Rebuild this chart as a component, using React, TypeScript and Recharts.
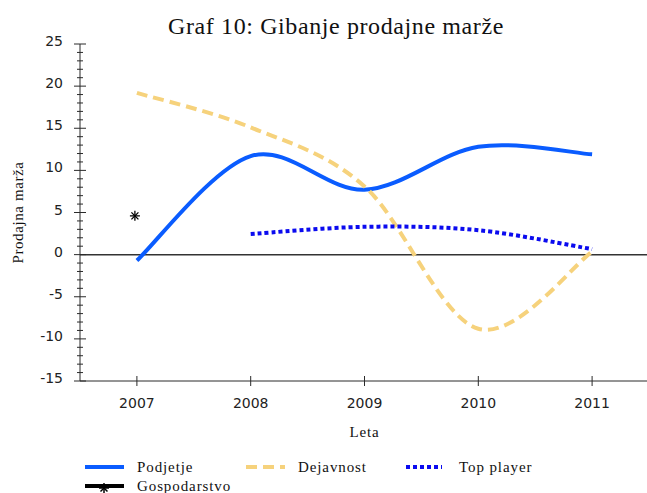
import React from "react";
import { ComposedChart, Line, XAxis, YAxis, ReferenceLine } from "recharts";

// Podatki, odčitani s slike
const years = [2007, 2008, 2009, 2010, 2011];
const podjetje = [-0.7, 11.7, 7.7, 12.8, 11.9];
const dejavnost = [19.2, 15.1, 8.1, -8.8, 0.35];
const topPlayer: (number | null)[] = [null, 2.45, 3.3, 2.9, 0.65];
const gospodarstvo: (number | null)[] = [4.6, null, null, null, null];

const yMajorTicks = [-15, -10, -5, 0, 5, 10, 15, 20, 25];
const yTicks = Array.from({ length: 41 }, (_, i) => i - 15);

const data = years.map((year, i) => ({
  year,
  podjetje: podjetje[i],
  dejavnost: dejavnost[i],
  topPlayer: topPlayer[i],
  gospodarstvo: gospodarstvo[i],
}));

const AXIS = "#2a2a2a";
const SANS = "DejaVu Sans";
const SERIF = "Liberation Serif";

// Excel-like smooth line (Catmull-Rom via bezier)
function smoothCurve(context: any) {
  let pts: number[][] = [];
  return {
    areaStart() {},
    areaEnd() {},
    lineStart() {
      pts = [];
    },
    lineEnd() {
      const n = pts.length;
      if (n === 0) return;
      context.moveTo(pts[0][0], pts[0][1]);
      for (let i = 0; i < n - 1; i++) {
        const p0 = pts[Math.max(0, i - 1)];
        const p1 = pts[i];
        const p2 = pts[i + 1];
        const p3 = pts[Math.min(n - 1, i + 2)];
        context.bezierCurveTo(
          p1[0] + (p2[0] - p0[0]) / 6,
          p1[1] + (p2[1] - p0[1]) / 6,
          p2[0] - (p3[0] - p1[0]) / 6,
          p2[1] - (p3[1] - p1[1]) / 6,
          p2[0],
          p2[1]
        );
      }
    },
    point(x: number, y: number) {
      pts.push([+x, +y]);
    },
  };
}

const BottomTick = ({ x, y, payload }: any) => (
  <g>
    <line x1={x} x2={x} y1={y - 5} y2={y + 5} stroke={AXIS} />
    <text x={x} y={y + 27} textAnchor="middle" fontFamily={SANS} fontSize={14} fill="#222">
      {payload.value}
    </text>
  </g>
);

const TopTick = ({ x, y }: any) => <line x1={x} x2={x} y1={y} y2={y + 5} stroke={AXIS} />;

const LeftTick = ({ x, y, payload }: any) => {
  const major = yMajorTicks.includes(payload.value);
  const h = major ? 6 : 3;
  return (
    <g>
      <line x1={x - h} x2={x + h} y1={y} y2={y} stroke={AXIS} />
      {major && (
        <text x={x - 17} y={y + 2} textAnchor="end" fontFamily={SANS} fontSize={14} fill="#222">
          {payload.value}
        </text>
      )}
    </g>
  );
};

const RightTick = ({ x, y, payload }: any) => {
  const h = yMajorTicks.includes(payload.value) ? 6 : 3;
  return <line x1={x - h} x2={x + h} y1={y} y2={y} stroke={AXIS} />;
};

const Star = ({ cx, cy, r = 5, w = 1.3 }: any) => (
  <g stroke="#000" strokeWidth={w}>
    <line x1={cx - r} x2={cx + r} y1={cy} y2={cy} />
    <line x1={cx} x2={cx} y1={cy - r} y2={cy + r} />
    <line x1={cx - r * 0.7} x2={cx + r * 0.7} y1={cy - r * 0.7} y2={cy + r * 0.7} />
    <line x1={cx - r * 0.7} x2={cx + r * 0.7} y1={cy + r * 0.7} y2={cy - r * 0.7} />
  </g>
);

const StarDot = (props: any) => {
  if (props.value == null || props.cy == null) return <g key={props.key} />;
  return <Star key={props.key} cx={props.cx - 2} cy={props.cy} />;
};

const legendItems = [
  { name: "Podjetje", color: "#0A5CFF", dash: undefined, x: 85, len: 39, tx: 137, y: 467 },
  { name: "Dejavnost", color: "#F6D27C", dash: "11 6", x: 246, len: 39, tx: 298, y: 467 },
  { name: "Top player", color: "#0B0BEF", dash: "4 3", x: 406, len: 36, tx: 459, y: 467 },
  { name: "Gospodarstvo", color: "#000", dash: undefined, x: 85, len: 39, tx: 137, y: 486 },
];

export default function App() {
  return (
    <div
      style={{
        position: "absolute",
        left: 0,
        top: 0,
        width: 647,
        height: 493,
        overflow: "hidden",
        background: "#fff",
      }}
    >
      <ComposedChart width={660} height={493} data={data} margin={{ top: 44, right: 11, left: 0, bottom: 0 }}>
        <XAxis
          xAxisId="top"
          orientation="top"
          dataKey="year"
          type="number"
          domain={[2006.5, 2011.5]}
          ticks={years}
          height={0}
          tickSize={0}
          tickMargin={0}
          tick={<TopTick />}
          stroke={AXIS}
        />
        <XAxis
          dataKey="year"
          type="number"
          domain={[2006.5, 2011.5]}
          ticks={years}
          height={112}
          tickSize={0}
          tickMargin={0}
          tick={<BottomTick />}
          stroke={AXIS}
          label={{
            value: "Leta",
            position: "insideTop",
            offset: 45,
            fontFamily: SERIF,
            fontSize: 15,
            letterSpacing: 0.8,
            fill: "#111",
          }}
        />
        <YAxis
          domain={[-15, 25]}
          ticks={yTicks}
          interval={0}
          width={80}
          tickSize={0}
          tickMargin={0}
          tick={<LeftTick />}
          stroke={AXIS}
          allowDataOverflow
          label={{
            value: "Prodajna marža",
            angle: -90,
            position: "center",
            dx: -22,
            fontFamily: SERIF,
            fontSize: 15,
            letterSpacing: 0.6,
            fill: "#111",
          }}
        />
        <YAxis
          yAxisId="right"
          orientation="right"
          domain={[-15, 25]}
          ticks={yTicks}
          interval={0}
          width={0}
          tickSize={0}
          tickMargin={0}
          tick={<RightTick />}
          stroke={AXIS}
        />
        <ReferenceLine y={0} stroke="#333" strokeWidth={1.5} />
        <Line
          dataKey="podjetje"
          type={smoothCurve as any}
          stroke="#0A5CFF"
          strokeWidth={4}
          dot={false}
          isAnimationActive={false}
        />
        <Line
          dataKey="dejavnost"
          type={smoothCurve as any}
          stroke="#F6D27C"
          strokeWidth={4}
          strokeDasharray="11 6"
          dot={false}
          isAnimationActive={false}
        />
        <Line
          dataKey="topPlayer"
          type={smoothCurve as any}
          stroke="#0B0BEF"
          strokeWidth={4}
          strokeDasharray="4 3"
          dot={false}
          isAnimationActive={false}
        />
        <Line
          dataKey="gospodarstvo"
          stroke="none"
          dot={<StarDot />}
          activeDot={false}
          isAnimationActive={false}
        />
      </ComposedChart>

      {/* naslov in legenda */}
      <svg
        width={647}
        height={493}
        style={{ position: "absolute", left: 0, top: 0, pointerEvents: "none" }}
      >
        <text
          x={336}
          y={34}
          textAnchor="middle"
          fontFamily={SERIF}
          fontSize={24}
          letterSpacing={0.6}
          fill="#111"
        >
          Graf 10: Gibanje prodajne marže
        </text>
        {legendItems.map((it) => (
          <g key={it.name}>
            <line
              x1={it.x}
              x2={it.x + it.len}
              y1={it.y}
              y2={it.y}
              stroke={it.color}
              strokeWidth={4}
              strokeDasharray={it.dash}
            />
            {it.name === "Gospodarstvo" && <Star cx={it.x + 19} cy={it.y + 2} r={5} w={1.5} />}
            <text
              x={it.tx}
              y={it.y + 5}
              fontFamily={SERIF}
              fontSize={15}
              letterSpacing={0.9}
              fill="#111"
            >
              {it.name}
            </text>
          </g>
        ))}
      </svg>
    </div>
  );
}
